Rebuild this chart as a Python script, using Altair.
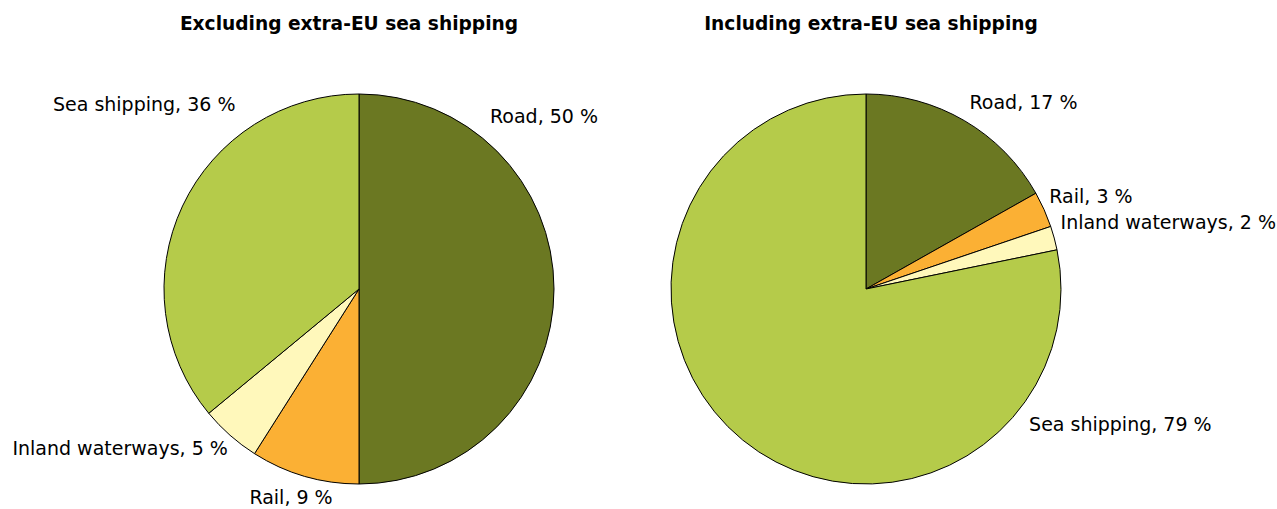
import altair as alt
import pandas as pd

# Modal split of EU freight transport (tonne-km shares, %)
modes = ["Road", "Rail", "Inland waterways", "Sea shipping"]
share_excl = [50, 9, 5, 36]
share_incl = [17, 3, 2, 79]
titles = ["Excluding extra-EU sea shipping", "Including extra-EU sea shipping"]

colors = ["#6B7822", "#FBB034", "#FFF8BB", "#B5CB4A"]

FONT = "DejaVu Sans"
PIE_R = 195
LABEL_R = 215
PANEL_H = 400

# Label placement per slice: text alignment and nudge from the slice's mid-angle point
label_style_excl = {
    "Road": ("left", -84, -172),
    "Rail": ("center", -8, 3),
    "Inland waterways": ("right", 11, -1),
    "Sea shipping": ("right", 71, -92),
}
label_style_incl = {
    "Road": ("left", -5, 0),
    "Rail": ("left", -13, -4),
    "Inland waterways": ("left", -13, -10),
    "Sea shipping": ("left", 299, -31),
}

theta_scale = alt.Scale(domain=[0, 1], range=[0, 6.283185307179586])


def pie(values, title, label_style, width, title_dx):
    df = pd.DataFrame({
        "mode": modes,
        "share": values,
        "rank": list(range(len(modes))),
        "label": [f"{m}, {v} %" for m, v in zip(modes, values)],
    })
    base = (
        alt.Chart(df)
        .transform_joinaggregate(total="sum(share)")
        .transform_window(cum="sum(share)", sort=[alt.SortField("rank")])
        .transform_calculate(
            start="(datum.cum - datum.share) / datum.total",
            end="datum.cum / datum.total",
            mid="(datum.cum - datum.share / 2) / datum.total",
        )
    )
    arcs = base.mark_arc(radius=PIE_R, stroke="black", strokeWidth=1).encode(
        theta=alt.Theta("start:Q", scale=theta_scale, stack=False),
        theta2="end:Q",
        color=alt.Color("mode:N", scale=alt.Scale(domain=modes, range=colors), legend=None),
    )
    labels = []
    for m in modes:
        align, dx, dy = label_style[m]
        labels.append(
            base.transform_filter(alt.datum.mode == m)
            .mark_text(radius=LABEL_R, align=align, baseline="middle", dx=dx, dy=dy,
                       font=FONT, fontSize=19, color="black")
            .encode(theta=alt.Theta("mid:Q", scale=theta_scale, stack=False), text="label:N")
        )
    return alt.layer(arcs, *labels).properties(
        width=width,
        height=PANEL_H,
        title=alt.TitleParams(title, font=FONT, fontSize=18.6, fontWeight="bold", color="black",
                              anchor="middle", baseline="alphabetic", offset=40, dx=title_dx),
    )


left = pie(share_excl, titles[0], label_style_excl, 718, -10)
right = pie(share_incl, titles[1], label_style_incl, 296, 5)

chart = (
    alt.hconcat(left, right, spacing=0, bounds="flush")
    .properties(padding={"left": 0, "top": 15, "right": 0, "bottom": 0})
    .configure_view(stroke=None)
)

chart.save("out.html", embed_options={"renderer": "svg", "actions": False})
